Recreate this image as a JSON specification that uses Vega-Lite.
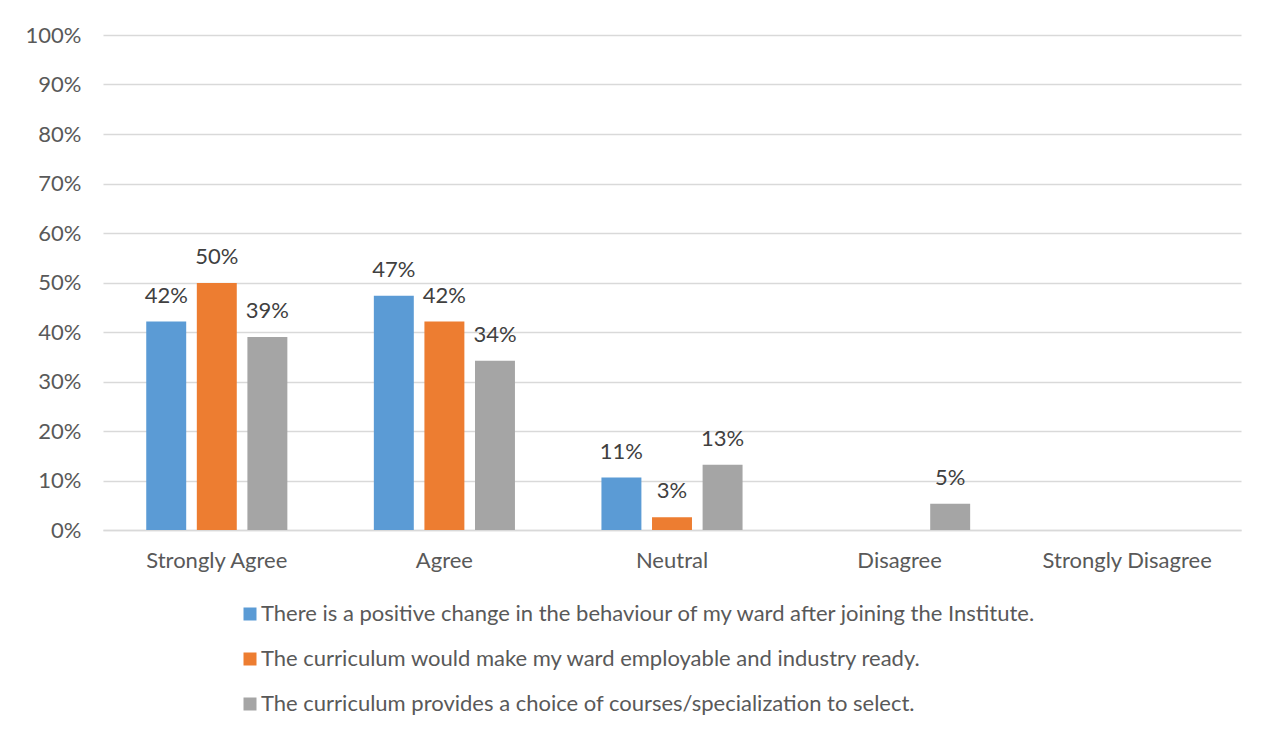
{
  "$schema": "https://vega.github.io/schema/vega-lite/v6.json",
  "autosize": {"type": "none"},
  "width": 1138,
  "height": 495,
  "padding": {"left": 103, "top": 35, "right": 30, "bottom": 205},
  "background": "white",
  "config": {
    "font": "Lato",
    "view": {"stroke": null},
    "axis": {"labelFont": "Lato", "labelFontSize": 22, "labelColor": "#595959", "ticks": false, "title": null}
  },
  "data": {
    "values": [
      {"category": "Strongly Agree", "series": "There is a positive change in the behaviour of my ward after joining the Institute.", "value": 0.421},
      {"category": "Strongly Agree", "series": "The curriculum would make my ward employable and industry ready.", "value": 0.499},
      {"category": "Strongly Agree", "series": "The curriculum provides a choice of courses/specialization to select.", "value": 0.39},
      {"category": "Agree", "series": "There is a positive change in the behaviour of my ward after joining the Institute.", "value": 0.473},
      {"category": "Agree", "series": "The curriculum would make my ward employable and industry ready.", "value": 0.421},
      {"category": "Agree", "series": "The curriculum provides a choice of courses/specialization to select.", "value": 0.342},
      {"category": "Neutral", "series": "There is a positive change in the behaviour of my ward after joining the Institute.", "value": 0.106},
      {"category": "Neutral", "series": "The curriculum would make my ward employable and industry ready.", "value": 0.026},
      {"category": "Neutral", "series": "The curriculum provides a choice of courses/specialization to select.", "value": 0.132},
      {"category": "Disagree", "series": "There is a positive change in the behaviour of my ward after joining the Institute.", "value": 0},
      {"category": "Disagree", "series": "The curriculum would make my ward employable and industry ready.", "value": 0},
      {"category": "Disagree", "series": "The curriculum provides a choice of courses/specialization to select.", "value": 0.053},
      {"category": "Strongly Disagree", "series": "There is a positive change in the behaviour of my ward after joining the Institute.", "value": 0},
      {"category": "Strongly Disagree", "series": "The curriculum would make my ward employable and industry ready.", "value": 0},
      {"category": "Strongly Disagree", "series": "The curriculum provides a choice of courses/specialization to select.", "value": 0}
    ]
  },
  "encoding": {
    "x": {
      "field": "category", "type": "nominal",
      "sort": ["Strongly Agree", "Agree", "Neutral", "Disagree", "Strongly Disagree"],
      "scale": {"paddingInner": 0.38, "paddingOuter": 0.19},
      "axis": {"labelAngle": 0, "labelPadding": 20, "domainColor": "#d9d9d9", "domainWidth": 1.5, "grid": false}
    },
    "xOffset": {
      "field": "series", "type": "nominal",
      "sort": ["There is a positive change in the behaviour of my ward after joining the Institute.", "The curriculum would make my ward employable and industry ready.", "The curriculum provides a choice of courses/specialization to select."],
      "scale": {"paddingInner": 0.21, "paddingOuter": 0}
    },
    "y": {
      "field": "value", "type": "quantitative",
      "scale": {"domain": [0, 1], "nice": false},
      "axis": {"format": ".0%", "values": [0, 0.1, 0.2, 0.3, 0.4, 0.5, 0.6, 0.7, 0.8, 0.9, 1], "domain": false, "grid": true, "gridColor": "#d9d9d9", "gridWidth": 1.5, "labelPadding": 22}
    }
  },
  "layer": [
    {
      "mark": {"type": "bar"},
      "encoding": {
        "color": {
          "field": "series", "type": "nominal",
          "sort": ["There is a positive change in the behaviour of my ward after joining the Institute.", "The curriculum would make my ward employable and industry ready.", "The curriculum provides a choice of courses/specialization to select."],
          "scale": {"range": ["#5B9BD5", "#ED7D31", "#A5A5A5"]},
          "legend": {
            "title": null, "orient": "none", "legendX": 136, "legendY": 568, "direction": "vertical",
            "symbolType": "square", "symbolSize": 169, "symbolStrokeWidth": 0, "symbolOpacity": 1,
            "labelFont": "Lato", "labelFontSize": 22, "labelColor": "#595959", "labelLimit": 1000, "labelOffset": 0,
            "rowPadding": 23
          }
        }
      }
    },
    {
      "transform": [{"filter": "datum.value > 0"}],
      "mark": {"type": "text", "baseline": "alphabetic", "dy": -19, "fontSize": 22, "color": "#404040", "font": "Lato"},
      "encoding": {
        "text": {"field": "value", "type": "quantitative", "format": ".0%"}
      }
    }
  ]
}
